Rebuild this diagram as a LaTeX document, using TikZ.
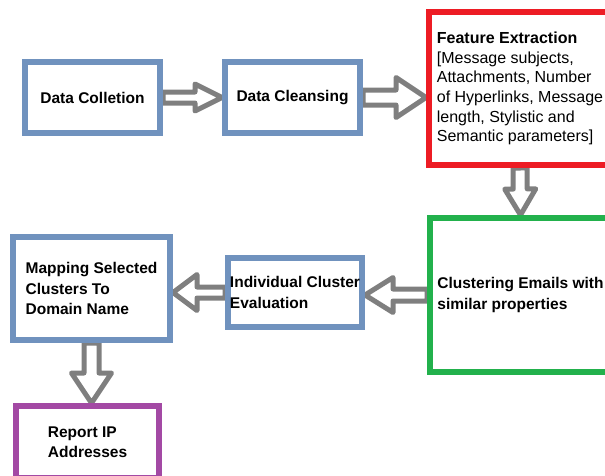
\documentclass[tikz,border=0pt]{standalone}
\usepackage{fontspec}
\setmainfont{Liberation Sans}
\usetikzlibrary{calc,backgrounds}

\definecolor{paintblue}{RGB}{112,146,190}
\definecolor{paintred}{RGB}{237,28,36}
\definecolor{paintgreen}{RGB}{34,177,76}
\definecolor{paintpurple}{RGB}{163,73,164}
\definecolor{arrowgray}{RGB}{127,127,127}

% hollow block arrow: shaft half width, head half width, head length, from, to
\newcommand{\blockarrow}[5]{%
  \draw[flow] ($(#4)!#1!90:(#5)$) -- ($(#5)!#3!(#4)!#1!-90:(#4)$)
    -- ($(#5)!#3!(#4)!#2!-90:(#4)$) -- (#5)
    -- ($(#5)!#3!(#4)!#2!90:(#4)$) -- ($(#5)!#3!(#4)!#1!90:(#4)$)
    -- ($(#4)!#1!-90:(#5)$) -- cycle;}

\begin{document}
\begin{tikzpicture}[x=1pt, y=-1pt,
    stage/.style={rectangle, line width=6pt, fill=white, align=left, inner sep=0pt,
      font=\fontsize{15.5}{20.3}\selectfont\bfseries},
    flow/.style={draw=arrowgray, fill=white, line width=5pt, line join=round}]
  \useasboundingbox (0,0) rectangle (605,475);

  \node[stage, draw=paintblue, minimum width=135pt, minimum height=71pt] (collect) at (92.5,97.5) {Data Colletion};
  \node[stage, draw=paintblue, minimum width=135pt, minimum height=71pt] (cleanse) at (292.5,97.5) {Data Cleansing};
  \node[stage, draw=paintred, minimum width=182pt, minimum height=153pt,
    font=\fontsize{16}{19.6}\selectfont] (feature) at (520,88.5)
    {\textbf{Feature Extraction}\\{}[Message subjects,\\Attachments, Number\\of Hyperlinks, Message\\length, Stylistic and\\Semantic parameters]};
  \node[stage, draw=paintgreen, minimum width=181pt, minimum height=154pt] (cluster) at (520.5,295) {Clustering Emails with\\similar properties};
  \node[stage, draw=paintblue, minimum width=134pt, minimum height=69pt] (evaluate) at (295,292.5) {Individual Cluster\\Evaluation};
  \node[stage, draw=paintblue, minimum width=157pt, minimum height=103pt] (mapping) at (91.5,288.5) {Mapping Selected\\Clusters To\\Domain Name};
  \node[stage, draw=paintpurple, minimum width=143pt, minimum height=72pt] (report) at (87.5,442) {Report IP\\Addresses};

  \coordinate (featin) at (feature.west |- cleanse.east);
  \coordinate (evalin) at (evaluate.east |- cluster.west);
  \coordinate (mapin) at (mapping.east |- evaluate.west);
  \coordinate (reportin) at (mapping.south |- report.north);

  \begin{scope}[on background layer]
    \blockarrow{5.5pt}{13.5pt}{27pt}{collect.east}{cleanse.west}
    \blockarrow{7.5pt}{20pt}{30pt}{cleanse.east}{featin}
    \blockarrow{7pt}{15.5pt}{26pt}{feature.south}{cluster.north}
    \blockarrow{6pt}{17.5pt}{28pt}{cluster.west}{evalin}
    \blockarrow{5.5pt}{18pt}{24pt}{evaluate.west}{mapin}
    \blockarrow{7.5pt}{20pt}{30pt}{mapping.south}{reportin}
  \end{scope}
\end{tikzpicture}
\end{document}
